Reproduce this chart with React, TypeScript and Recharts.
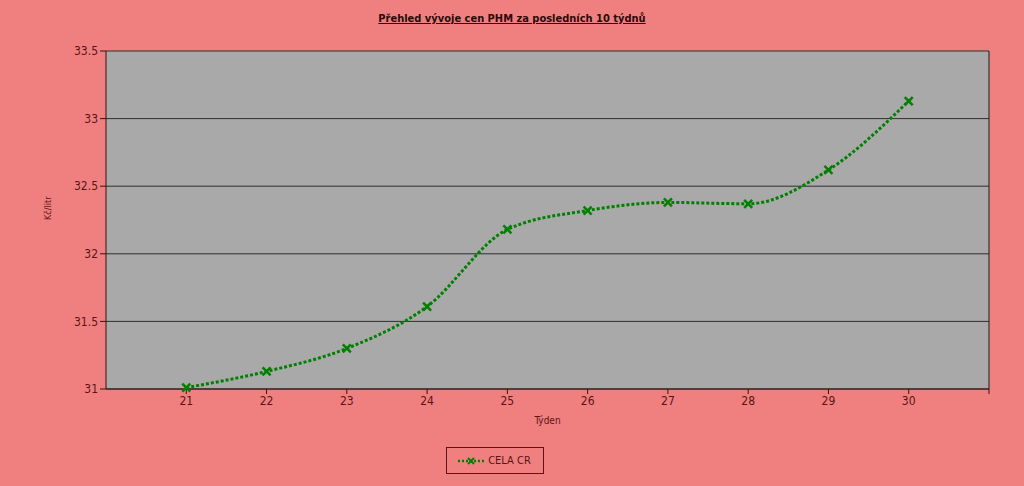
import { LineChart, Line, XAxis, YAxis, CartesianGrid, Legend, ReferenceLine } from "recharts";

const weeks = [21, 22, 23, 24, 25, 26, 27, 28, 29, 30];
const celaCr = [31.01, 31.13, 31.3, 31.61, 32.18, 32.32, 32.38, 32.37, 32.62, 33.13];
const xTicks = [21, 22, 23, 24, 25, 26, 27, 28, 29, 30, 31];
const yTicks = [31, 31.5, 32, 32.5, 33, 33.5];

const data = weeks.map((w, i) => ({ week: w, value: celaCr[i] }));

const FONT = "'DejaVu Sans Condensed', 'DejaVu Sans', sans-serif";
const TEXT = "#5a1414";
const GREEN = "#008000";

const Cross = (props: any) => {
  const { cx, cy } = props;
  if (cx == null || cy == null) return null;
  const s = 4;
  return (
    <g stroke={GREEN} strokeWidth={2.5}>
      <line x1={cx - s} y1={cy - s} x2={cx + s} y2={cy + s} />
      <line x1={cx - s} y1={cy + s} x2={cx + s} y2={cy - s} />
    </g>
  );
};

const LegendBox = () => (
  <div style={{ display: "flex", justifyContent: "center" }}>
    <div
      style={{
        border: `1px solid ${TEXT}`,
        width: 98,
        height: 27,
        display: "flex",
        alignItems: "center",
        justifyContent: "center",
        fontFamily: FONT,
        fontSize: 11,
        color: TEXT,
        boxSizing: "border-box",
      }}
    >
      <svg width={26} height={10} style={{ marginRight: 4 }}>
        <line x1={0} y1={5} x2={26} y2={5} stroke={GREEN} strokeWidth={2.5} strokeDasharray="2 2" />
        <line x1={10} y1={2} x2={16} y2={8} stroke={GREEN} strokeWidth={2} />
        <line x1={10} y1={8} x2={16} y2={2} stroke={GREEN} strokeWidth={2} />
      </svg>
      CELA CR
    </div>
  </div>
);

export default function App() {
  return (
    <div
      style={{
        position: "fixed",
        left: 0,
        top: 0,
        width: 1024,
        height: 486,
        background: "#F08080",
      }}
    >
      <div
        style={{
          position: "absolute",
          top: 12,
          left: 0,
          width: 1024,
          textAlign: "center",
          fontFamily: FONT,
          fontWeight: "bold",
          fontSize: 11,
          textDecoration: "underline",
          color: "#2a0a0a",
        }}
      >
        Přehled vývoje cen PHM za posledních 10 týdnů
      </div>
      <LineChart
        width={1024}
        height={486}
        data={data}
        margin={{ top: 51, right: 35, left: 0, bottom: 12 }}
      >
        <CartesianGrid
          vertical={false}
          stroke="#1a1a1a"
          strokeOpacity={0.85}
          fill="#A9A9A9"
          fillOpacity={1}
        />
        <XAxis
          dataKey="week"
          type="number"
          domain={[20, 31]}
          ticks={xTicks}
          tickFormatter={(v) => (v === 31 ? "" : String(v))}
          stroke="#3a1010"
          tickSize={5}
          height={58}
          tick={{ fill: TEXT, fontSize: 12, fontFamily: FONT }}
          label={{ value: "Týden", position: "insideBottom", offset: 23, fill: TEXT, fontSize: 10, fontFamily: FONT }}
        />
        <YAxis
          type="number"
          domain={[31, 33.5]}
          ticks={yTicks}
          width={106}
          stroke="#3a1010"
          tickSize={6}
          tick={{ fill: TEXT, fontSize: 12, fontFamily: FONT }}
          label={{ value: "Kč/litr", angle: -90, position: "insideLeft", offset: 48, fill: TEXT, fontSize: 9, fontFamily: FONT }}
        />
        <ReferenceLine x={31} stroke="#1a1a1a" />
        <Legend verticalAlign="bottom" content={<LegendBox />} />
        <Line
          type="monotone"
          dataKey="value"
          name="CELA CR"
          stroke={GREEN}
          strokeWidth={3}
          strokeDasharray="3 2"
          dot={<Cross />}
          activeDot={false}
          isAnimationActive={false}
        />
      </LineChart>
    </div>
  );
}
